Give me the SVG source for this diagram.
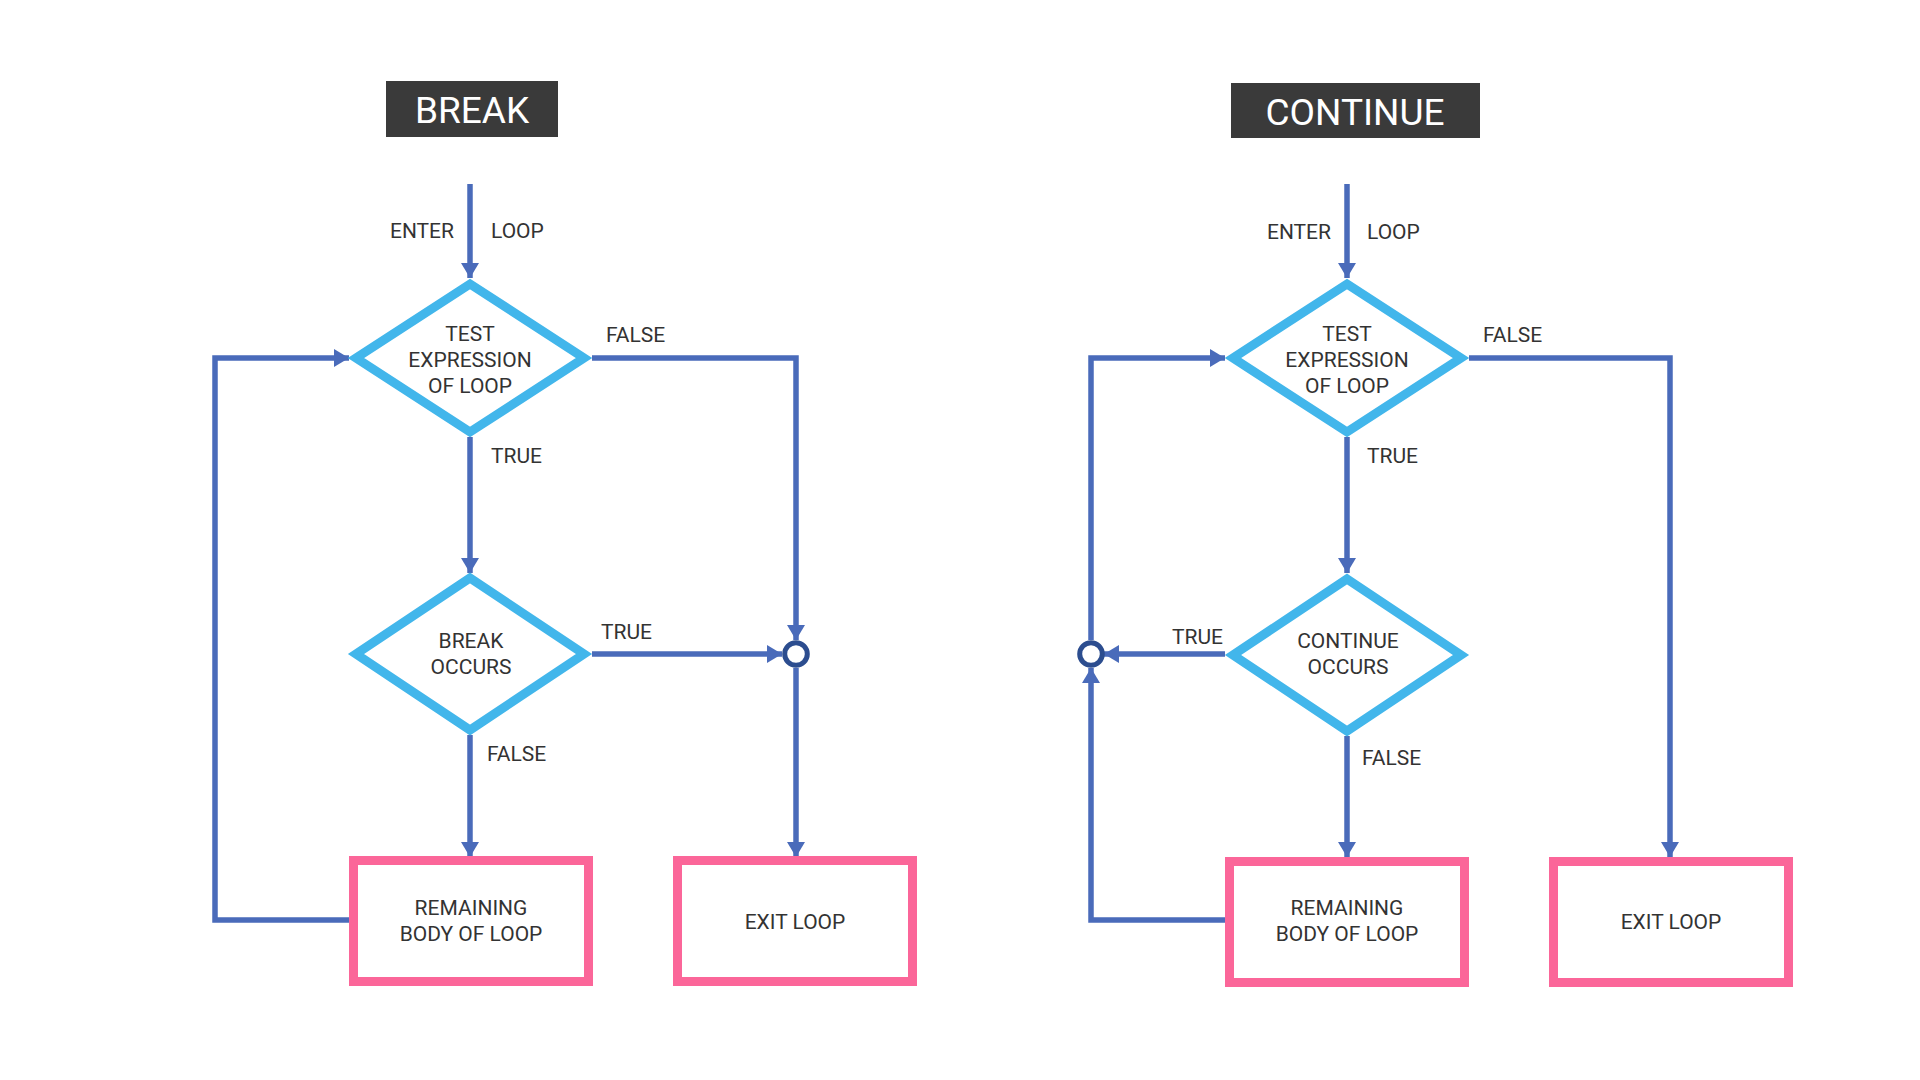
<svg xmlns="http://www.w3.org/2000/svg" width="1920" height="1080" viewBox="0 0 1920 1080">
<style>
.bg{fill:#ffffff}
.title{fill:#3a3a3a}
.ttext{font-family:Roboto,"Liberation Sans",sans-serif;font-size:37px;fill:#ffffff;text-anchor:middle}
.dia{fill:#ffffff;stroke:#42b6eb;stroke-width:9;stroke-linejoin:miter}
.box{fill:#ffffff;stroke:#fb6699;stroke-width:9}
.lbl{font-family:Roboto,"Liberation Sans",sans-serif;font-size:21px;fill:#333333}
.c{text-anchor:middle}
.e{text-anchor:end}
.ln{fill:none;stroke:#4a6bba;stroke-width:5.5}
.junc{fill:#ffffff;stroke:#2c4d8f;stroke-width:5}
</style>
<defs>
<marker id="arr" markerUnits="userSpaceOnUse" markerWidth="15" markerHeight="18" viewBox="0 0 15 18" refX="15" refY="9" orient="auto">
<path d="M0,0 L15,9 L0,18 z" fill="#4a6bba"/>
</marker>
</defs>
<rect class="bg" x="0" y="0" width="1920" height="1080"/>

<g id="connectors">
<path class="ln" d="M470,184 V278" marker-end="url(#arr)"/>
<path class="ln" d="M352,920 H215 V358 H349" marker-end="url(#arr)"/>
<path class="ln" d="M592,358 H796 V640" marker-end="url(#arr)"/>
<path class="ln" d="M470,437 V573" marker-end="url(#arr)"/>
<path class="ln" d="M592,654 H782" marker-end="url(#arr)"/>
<path class="ln" d="M470,735 V857" marker-end="url(#arr)"/>
<path class="ln" d="M796,668 V857" marker-end="url(#arr)"/>

<path class="ln" d="M1347,184 V278" marker-end="url(#arr)"/>
<path class="ln" d="M1469,358 H1670 V857" marker-end="url(#arr)"/>
<path class="ln" d="M1347,437 V573" marker-end="url(#arr)"/>
<path class="ln" d="M1347,736 V857" marker-end="url(#arr)"/>
<path class="ln" d="M1225,654 H1104" marker-end="url(#arr)"/>
<path class="ln" d="M1228,920 H1091 V668" marker-end="url(#arr)"/>
<path class="ln" d="M1091,640 V358 H1225" marker-end="url(#arr)"/>

<text class="lbl e" x="454" y="238">ENTER</text>
<text class="lbl" x="491" y="238">LOOP</text>
<text class="lbl" x="606" y="342">FALSE</text>
<text class="lbl" x="491" y="463">TRUE</text>
<text class="lbl" x="601" y="639">TRUE</text>
<text class="lbl" x="487" y="761">FALSE</text>

<text class="lbl e" x="1331" y="239">ENTER</text>
<text class="lbl" x="1367" y="239">LOOP</text>
<text class="lbl" x="1483" y="342">FALSE</text>
<text class="lbl" x="1367" y="463">TRUE</text>
<text class="lbl e" x="1223" y="644">TRUE</text>
<text class="lbl" x="1362" y="765">FALSE</text>
</g>

<g id="title-break">
<rect class="title" x="386" y="81" width="172" height="56"/>
<text class="ttext" x="472" y="123">BREAK</text>
</g>
<g id="title-continue">
<rect class="title" x="1231" y="83" width="249" height="55"/>
<text class="ttext" x="1355" y="125">CONTINUE</text>
</g>

<g id="b-test">
<polygon class="dia" points="470,284 584,358 470,432 356,358"/>
<text class="lbl c" x="470" y="341">TEST</text>
<text class="lbl c" x="470" y="367">EXPRESSION</text>
<text class="lbl c" x="470" y="393">OF LOOP</text>
</g>
<g id="b-break">
<polygon class="dia" points="470,578 584,654 470,730 356,654"/>
<text class="lbl c" x="471" y="648">BREAK</text>
<text class="lbl c" x="471" y="674">OCCURS</text>
</g>
<g id="b-junction">
<circle class="junc" cx="796" cy="654" r="11.3"/>
</g>
<g id="b-body">
<rect class="box" x="353.5" y="860.5" width="235" height="121"/>
<text class="lbl c" x="471" y="915">REMAINING</text>
<text class="lbl c" x="471" y="941">BODY OF LOOP</text>
</g>
<g id="b-exit">
<rect class="box" x="677.5" y="860.5" width="235" height="121"/>
<text class="lbl c" x="795" y="929">EXIT LOOP</text>
</g>

<g id="c-test">
<polygon class="dia" points="1347,284 1461,358 1347,432 1233,358"/>
<text class="lbl c" x="1347" y="341">TEST</text>
<text class="lbl c" x="1347" y="367">EXPRESSION</text>
<text class="lbl c" x="1347" y="393">OF LOOP</text>
</g>
<g id="c-continue">
<polygon class="dia" points="1347,579 1461,655 1347,731 1233,655"/>
<text class="lbl c" x="1348" y="648">CONTINUE</text>
<text class="lbl c" x="1348" y="674">OCCURS</text>
</g>
<g id="c-junction">
<circle class="junc" cx="1091" cy="654" r="11.3"/>
</g>
<g id="c-body">
<rect class="box" x="1229.5" y="861.5" width="235" height="121"/>
<text class="lbl c" x="1347" y="915">REMAINING</text>
<text class="lbl c" x="1347" y="941">BODY OF LOOP</text>
</g>
<g id="c-exit">
<rect class="box" x="1553.5" y="861.5" width="235" height="121"/>
<text class="lbl c" x="1671" y="929">EXIT LOOP</text>
</g>
</svg>
